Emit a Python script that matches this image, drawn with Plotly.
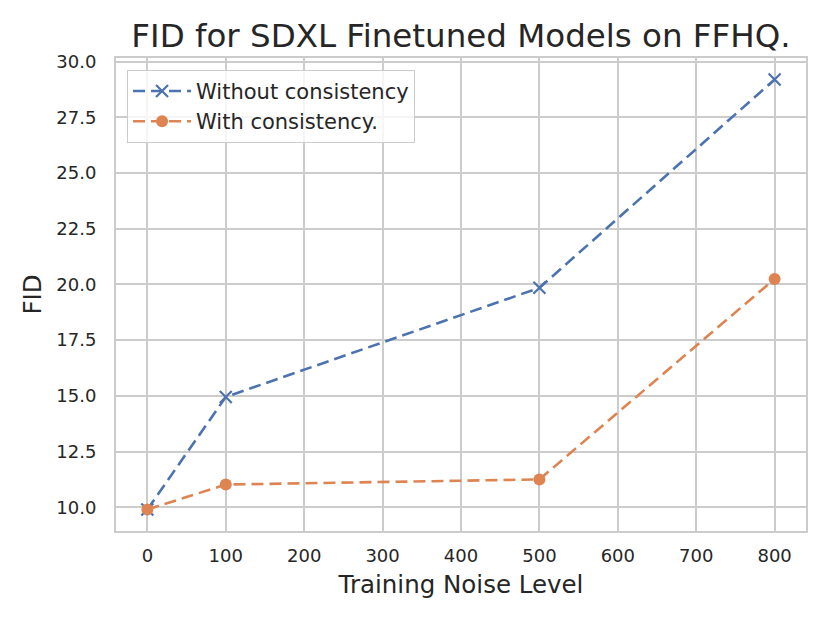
import plotly.graph_objects as go

noise_levels = [0, 100, 500, 800]
fid_without = [9.9, 14.95, 19.85, 29.2]
fid_with = [9.9, 11.02, 11.25, 20.25]
x_ticks = [0, 100, 200, 300, 400, 500, 600, 700, 800]
y_ticks = [10.0, 12.5, 15.0, 17.5, 20.0, 22.5, 25.0, 27.5, 30.0]

BLUE = "#4C72B0"
ORANGE = "#DD8452"
TEXT = "#262626"
GRID = "#cccccc"
FONT = "DejaVu Sans"

fig = go.Figure()
fig.add_trace(go.Scatter(
    x=noise_levels, y=fid_without, mode="lines+markers",
    name="Without consistency",
    line=dict(color=BLUE, width=2.6, dash="12px,6px"),
    marker=dict(symbol="x-thin", size=12, line=dict(color=BLUE, width=2.2), color=BLUE),
))
fig.add_trace(go.Scatter(
    x=noise_levels, y=fid_with, mode="lines+markers",
    name="With consistency.",
    line=dict(color=ORANGE, width=2.6, dash="12px,6px"),
    marker=dict(symbol="circle", size=12, color=ORANGE),
))

fig.update_layout(
    width=830, height=623,
    margin=dict(l=116, r=24, t=58, b=92),
    paper_bgcolor="white", plot_bgcolor="white",
    font=dict(family=FONT, color=TEXT, size=18),
    title=dict(text="FID for SDXL Finetuned Models on FFHQ.", x=0.5, xref="paper",
               y=1 - 36 / 623, yref="container", xanchor="center", yanchor="middle",
               font=dict(size=32.5, color=TEXT, family=FONT)),
    legend=dict(x=0.016, y=0.975, xanchor="left", yanchor="top",
                bgcolor="rgba(255,255,255,0.8)", bordercolor=GRID, borderwidth=1,
                font=dict(size=21, color=TEXT, family=FONT), itemwidth=58,
                tracegroupgap=0),
    showlegend=True,
)
fig.update_xaxes(
    range=[-40, 840], tickvals=x_ticks, ticktext=[str(v) for v in x_ticks],
    showgrid=True, gridcolor=GRID, gridwidth=1.8, zeroline=False,
    showline=True, linecolor=GRID, linewidth=2, mirror=True,
    ticks="outside", ticklen=0, ticklabelstandoff=7,
    tickfont=dict(size=18, color=TEXT),
    title=dict(text="Training Noise Level", font=dict(size=24.5, color=TEXT), standoff=11),
)
fig.update_yaxes(
    range=[8.935, 30.165], tickvals=y_ticks, ticktext=[f"{v:.1f}" for v in y_ticks],
    showgrid=True, gridcolor=GRID, gridwidth=1.8, zeroline=False,
    showline=True, linecolor=GRID, linewidth=2, mirror=True,
    ticks="outside", ticklen=0, ticklabelstandoff=14,
    tickfont=dict(size=18, color=TEXT),
    title=dict(text="FID", font=dict(size=24.5, color=TEXT), standoff=8),
)

fig.write_html("out.html", config={"displayModeBar": False},
               post_script="document.body.style.margin='0px';")
